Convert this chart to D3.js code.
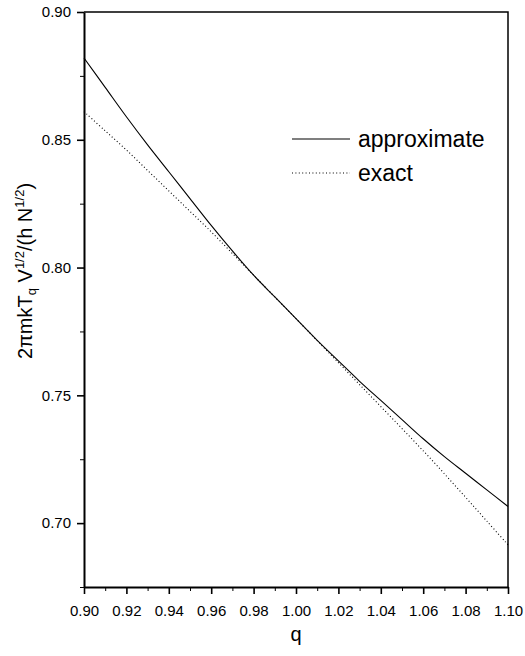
<!DOCTYPE html>
<html>
<head>
<meta charset="utf-8">
<script src="https://cdn.jsdelivr.net/npm/d3@7/dist/d3.min.js"></script>
<style>
  body { margin: 0; background: #fff; }
  svg { font-family: "Liberation Sans", Arial, sans-serif; }
  .tick text { font-size: 15px; fill: #000; }
  .tick line, .domain { stroke: #000; }
</style>
</head>
<body>
<svg></svg>
<script>
// q values and the two curves
const qValues = [0.90, 0.91, 0.92, 0.93, 0.94, 0.95, 0.96, 0.97, 0.98, 0.99, 1.00,
                 1.01, 1.02, 1.03, 1.04, 1.05, 1.06, 1.07, 1.08, 1.09, 1.10];
const approximate = [0.8820, 0.8705, 0.8590, 0.8480, 0.8375, 0.8270, 0.8165, 0.8065, 0.7970, 0.7885, 0.7800,
                     0.7715, 0.7635, 0.7555, 0.7480, 0.7405, 0.7330, 0.7260, 0.7195, 0.7130, 0.7065];
const exact = [0.8610, 0.8535, 0.8460, 0.8380, 0.8300, 0.8220, 0.8140, 0.8055, 0.7970, 0.7885, 0.7800,
               0.7714, 0.7628, 0.7542, 0.7456, 0.7370, 0.7283, 0.7193, 0.7101, 0.7008, 0.6915];
const xTicks = [0.90, 0.92, 0.94, 0.96, 0.98, 1.00, 1.02, 1.04, 1.06, 1.08, 1.10];
const yTicks = [0.70, 0.75, 0.80, 0.85, 0.90];

const width = 525, height = 656, margin = { top: 12, right: 17, bottom: 69, left: 84 };

const svg = d3.select("svg")
  .attr("width", width)
  .attr("height", height);

const x = d3.scaleLinear()
  .domain([0.90, 1.10])
  .range([margin.left, width - margin.right]);

const y = d3.scaleLinear()
  .domain([0.675, 0.90])
  .range([height - margin.bottom, margin.top]);

// minor ticks
svg.append("g")
  .attr("transform", `translate(0,${height - margin.bottom})`)
  .call(d3.axisBottom(x).tickValues(d3.range(0.91, 1.10, 0.02)).tickSize(4).tickFormat(""))
  .call(g => g.select(".domain").remove());

svg.append("g")
  .attr("transform", `translate(${margin.left},0)`)
  .call(d3.axisLeft(y).tickValues([0.675, 0.725, 0.775, 0.825, 0.875]).tickSize(4).tickFormat(""))
  .call(g => g.select(".domain").remove());

// X axis
svg.append("g")
  .attr("transform", `translate(0,${height - margin.bottom})`)
  .call(d3.axisBottom(x).tickValues(xTicks).tickSize(7).tickSizeOuter(0).tickPadding(11).tickFormat(d3.format(".2f")))
  .call(g => g.selectAll(".tick line").attr("stroke-width", 1.6))
  .call(g => g.select(".domain").attr("stroke-width", 2));

// Y axis
svg.append("g")
  .attr("transform", `translate(${margin.left},0)`)
  .call(d3.axisLeft(y).tickValues(yTicks).tickSize(7).tickSizeOuter(0).tickPadding(6).tickFormat(d3.format(".2f")))
  .call(g => g.selectAll(".tick line").attr("stroke-width", 1.6))
  .call(g => g.select(".domain").attr("stroke-width", 2));

// top and right frame
svg.append("path")
  .attr("d", `M${margin.left},${margin.top}H${width - margin.right}V${height - margin.bottom}`)
  .attr("fill", "none")
  .attr("stroke", "#000")
  .attr("stroke-width", 1.5);

const line = d3.line()
  .x((d, i) => x(qValues[i]))
  .y(d => y(d))
  .curve(d3.curveCatmullRom);

svg.append("path")
  .datum(approximate)
  .attr("d", line)
  .attr("fill", "none")
  .attr("stroke", "#000")
  .attr("stroke-width", 1.1);

svg.append("path")
  .datum(exact)
  .attr("d", line)
  .attr("fill", "none")
  .attr("stroke", "#000")
  .attr("stroke-width", 1.1)
  .attr("stroke-dasharray", "1,2.4");

// legend
const legend = [
  { label: "approximate", dash: null, y: 139 },
  { label: "exact", dash: "1,2.4", y: 173 }
];
legend.forEach(d => {
  svg.append("line")
    .attr("x1", 292).attr("x2", 350)
    .attr("y1", d.y).attr("y2", d.y)
    .attr("stroke", "#000")
    .attr("stroke-width", 1.1)
    .attr("stroke-dasharray", d.dash);
  svg.append("text")
    .attr("x", 358)
    .attr("y", d.y + 8)
    .style("font-size", "23px")
    .text(d.label);
});

// X-axis label
svg.append("text")
  .attr("x", (margin.left + width - margin.right) / 2)
  .attr("y", 641)
  .style("text-anchor", "middle")
  .style("font-size", "20px")
  .text("q");

// Y-axis label
const yl = svg.append("text")
  .attr("transform", `translate(32,271) rotate(-90)`)
  .style("text-anchor", "middle")
  .style("font-size", "20px");
yl.append("tspan").text("2πmkT");
yl.append("tspan").attr("dy", 4).style("font-size", "13px").text("q");
yl.append("tspan").attr("dy", -4).text(" V");
yl.append("tspan").attr("dy", -8).style("font-size", "13px").text("1/2");
yl.append("tspan").attr("dy", 8).text("/(h N");
yl.append("tspan").attr("dy", -8).style("font-size", "13px").text("1/2");
yl.append("tspan").attr("dy", 8).text(")");
</script>
</body>
</html>
